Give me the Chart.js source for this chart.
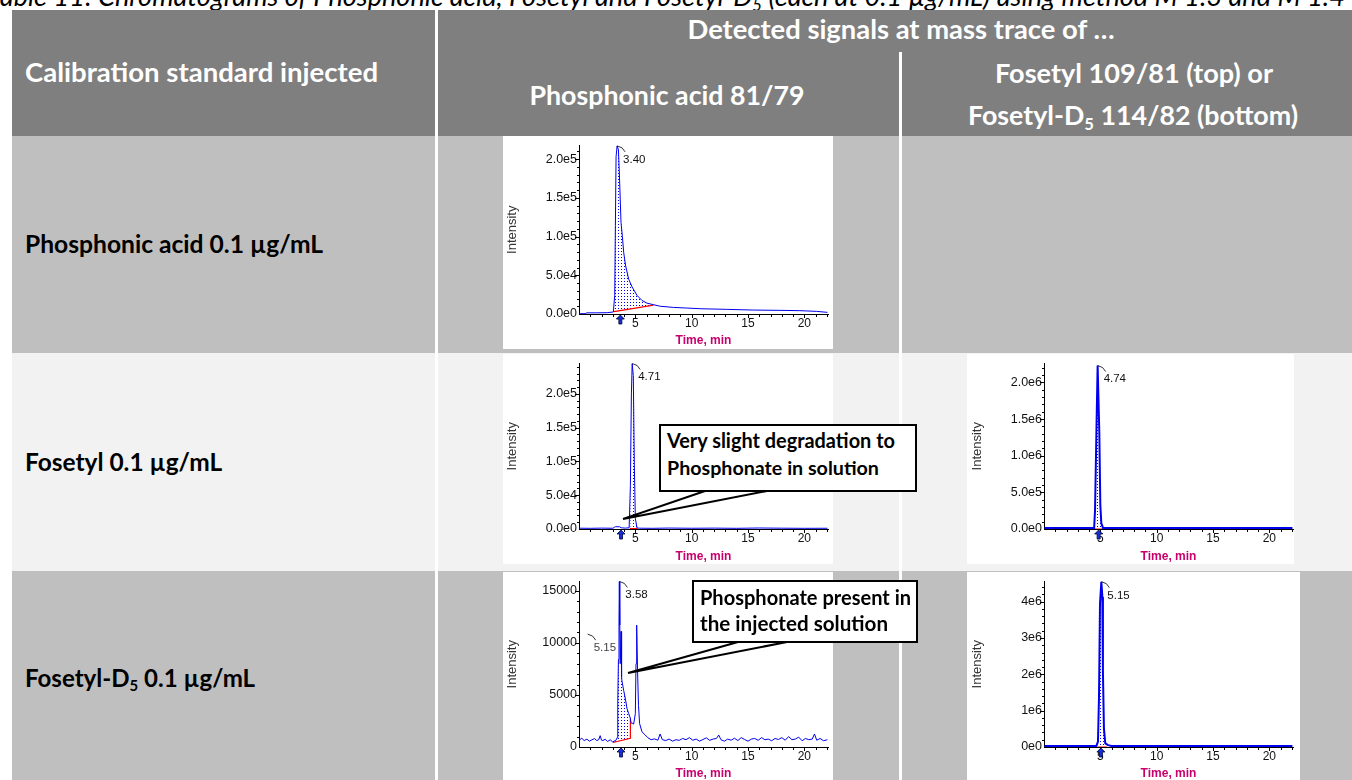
<!DOCTYPE html>
<html>
<head>
<meta charset="utf-8">
<script src="https://cdn.jsdelivr.net/npm/chart.js@4.4.0/dist/chart.umd.min.js"></script>
<style>
  body { margin: 0; width: 1352px; height: 780px; overflow: hidden; position: relative; background: #fff; font-family: Lato, "Open Sans", sans-serif; }
  .box { position: absolute; }
  .txt { position: absolute; white-space: nowrap; font-weight: bold; font-size: 20px; line-height: 1; transform: translate(-50%, -50%); color: #000; }
  .hd { color: #fff; }
  .lbl { transform: translate(0, -50%); }
  .sub { font-size: 0.62em; position: relative; top: 0.28em; }
  .cap { position: absolute; left: -12px; top: -14px; font: italic 19px/19px Lato, sans-serif; white-space: nowrap; }
  canvas { position: absolute; background: #fff; }
  .callout { position: absolute; background: #fff; border: 2px solid #000; box-sizing: border-box; }
</style>
</head>
<body>
<div class="cap" data-w="1357">Table 11: Chromatograms of Phosphonic acid, Fosetyl and Fosetyl-D<span class="sub">5</span> (each at 0.1 µg/mL) using method M 1.3 and M 1.4</div>

<!-- table background -->
<div class="box" style="left:12px;top:10px;width:1340px;height:126px;background:#7f7f7f"></div>
<div class="box" style="left:12px;top:136px;width:1340px;height:217px;background:#bfbfbf"></div>
<div class="box" style="left:12px;top:353px;width:1340px;height:218px;background:#f2f2f2"></div>
<div class="box" style="left:12px;top:571px;width:1340px;height:209px;background:#bfbfbf"></div>
<div class="box" style="left:435px;top:10px;width:3px;height:770px;background:#fff"></div>
<div class="box" style="left:899px;top:52px;width:3px;height:728px;background:#fff"></div>

<div class="txt hd" style="left:901px;top:29px" data-w="427">Detected signals at mass trace of …</div>
<div class="txt hd lbl" style="left:25px;top:72px" data-w="353">Calibration standard injected</div>
<div class="txt hd" style="left:667px;top:95px" data-w="275">Phosphonic acid 81/79</div>
<div class="txt hd" style="left:1134px;top:73px" data-w="278">Fosetyl 109/81 (top) or</div>
<div class="txt hd" style="left:1133px;top:115px" data-w="330">Fosetyl-D<span class="sub">5</span> 114/82 (bottom)</div>

<div class="txt lbl" style="left:25px;top:244px" data-w="298">Phosphonic acid 0.1 µg/mL</div>
<div class="txt lbl" style="left:25px;top:462px" data-w="197">Fosetyl 0.1 µg/mL</div>
<div class="txt lbl" style="left:25px;top:678px" data-w="230">Fosetyl-D<span class="sub">5</span> 0.1 µg/mL</div>

<canvas id="c1" style="left:503px;top:136px"></canvas>
<canvas id="c2" style="left:503px;top:354px"></canvas>
<canvas id="c3" style="left:967px;top:354px"></canvas>
<canvas id="c4" style="left:503px;top:572px"></canvas>
<canvas id="c5" style="left:967px;top:572px"></canvas>

<!-- callouts -->
<svg class="box" style="left:0;top:0" width="1352" height="780">
  <polyline points="705,491 623,519 767,491" fill="none" stroke="#000" stroke-width="2"/>
  <polyline points="738,642 628,673 787,642" fill="none" stroke="#000" stroke-width="2"/>
</svg>
<div class="callout" style="left:659px;top:424px;width:258px;height:68px"></div>
<div class="txt lbl" style="left:667px;top:441px" data-w="228">Very slight degradation to</div>
<div class="txt lbl" style="left:667px;top:468px" data-w="212">Phosphonate in solution</div>
<div class="callout" style="left:692px;top:580px;width:226px;height:63px"></div>
<div class="txt lbl" style="left:700px;top:597px" data-w="211">Phosphonate present in</div>
<div class="txt lbl" style="left:700px;top:623px" data-w="188">the injected solution</div>

<script>
// time axis (min)
const timeTicks = [5, 10, 15, 20];

// Phosphonic acid 0.1 µg/mL, trace 81/79
const ch1Time = [0.05, 0.62, 0.66, 1.5, 2.5, 3.05, 3.17, 3.23, 3.29, 3.38, 3.50, 3.58, 3.73, 3.85, 3.97, 4.14, 4.41, 4.71, 5.15, 5.59, 6.03, 6.62, 7.21, 8.39, 9.57, 10.75, 13.11, 15.47, 17.83, 19.60, 21.08, 22.05];
const ch1Int = [400, 400, 1500, 1500, 1700, 2600, 24000, 114000, 203000, 217000, 212000, 182000, 118000, 100000, 79000, 62000, 45000, 35000, 24000, 17500, 14000, 12000, 10000, 8500, 7700, 6800, 6000, 5100, 4700, 4300, 3400, 2100];
const ch1BaseTime = [3.10, 6.62];
const ch1BaseInt = [3000, 11500];
const ch1YTicks = [0, 50000, 100000, 150000, 200000];

// Fosetyl 0.1 µg/mL, trace 81/79
const ch2Time = [0.05, 1.0, 2.0, 3.0, 3.15, 3.25, 3.6, 3.75, 4.1, 4.45, 4.56, 4.65, 4.72, 4.82, 4.91, 5.00, 5.15, 5.4, 6.5, 8.0, 10.0, 12.0, 14.0, 16.0, 18.0, 20.0, 22.05];
const ch2Int = [1200, 1000, 1300, 1100, 2600, 3400, 3300, 1800, 1300, 1800, 64000, 200000, 245000, 227000, 96000, 15600, 1500, 1200, 1000, 1400, 1100, 1300, 1000, 1500, 1200, 1000, 1100];
const ch2BaseTime = [4.50, 5.20];
const ch2BaseInt = [600, 600];
const ch2YTicks = [0, 50000, 100000, 150000, 200000];

// Fosetyl 0.1 µg/mL, trace 109/81
const ch3Time = [0.05, 4.45, 4.53, 4.65, 4.76, 4.91, 5.00, 5.09, 5.24, 22.05];
const ch3Int = [15000, 15000, 255000, 1310000, 2230000, 1310000, 320000, 76000, 15000, 15000];
const ch3BaseTime = [4.50, 5.25];
const ch3BaseInt = [0, 0];
const ch3YTicks = [0, 500000, 1000000, 1500000, 2000000];

// Fosetyl-D5 0.1 µg/mL, trace 81/79
const ch4Time = [0.04, 0.25, 0.46, 0.70, 0.93, 1.14, 1.38, 1.58, 1.75, 1.88, 2.00, 2.12, 2.32, 2.53, 2.77, 3.00, 3.20, 3.32,
  3.38, 3.44, 3.50, 3.55, 3.58, 3.62, 3.66, 3.73, 3.78, 3.82, 3.97, 4.12, 4.26, 4.41, 4.56, 4.62, 4.71, 4.85,
  5.00, 5.06, 5.12, 5.20, 5.28, 5.38, 5.59, 5.88,
  6.10, 6.40, 6.70, 7.00, 7.20, 7.40, 7.70, 8.00, 8.30, 8.60, 8.90, 9.20, 9.50, 9.80, 10.10, 10.40, 10.70, 11.00, 11.30, 11.60,
  11.90, 12.20, 12.40, 12.60, 12.90, 13.20, 13.50, 13.80, 14.10, 14.40, 14.70, 15.00, 15.30, 15.60, 15.90, 16.20, 16.50, 16.80, 17.10, 17.40,
  17.70, 18.00, 18.30, 18.60, 18.90, 19.20, 19.50, 19.80, 20.10, 20.40, 20.70, 20.90, 21.10, 21.40, 21.70, 22.05];
const ch4Int = [690, 840, 620, 750, 560, 690, 810, 620, 700, 1090, 650, 620, 750, 530, 690, 480, 620, 700,
  900, 4300, 8400, 12000, 15900, 11700, 8000, 11100, 6700, 6300, 5400, 4600, 3700, 3200, 2750, 2300, 2300, 2200,
  3200, 8000, 11700, 7200, 4000, 2240, 1460, 1150,
  900, 700, 780, 650, 1250, 700, 620, 760, 560, 700, 640, 820, 700, 900, 650, 760, 560, 720, 880, 640,
  760, 820, 1150, 700, 560, 760, 650, 840, 620, 900, 720, 560, 760, 820, 640, 900, 700, 760, 600, 820,
  720, 900, 650, 1000, 700, 760, 950, 600, 820, 700, 760, 1250, 650, 820, 600, 700];
const ch4BaseTime = [3.02, 4.56, 4.56];
const ch4BaseInt = [430, 840, 2750];
const ch4YTicks = [0, 5000, 10000, 15000];

// Fosetyl-D5 0.1 µg/mL, trace 114/82
const ch5Time = [0.05, 4.65, 4.79, 4.88, 4.97, 5.09, 5.18, 5.23, 5.32, 5.44, 5.68, 6.0, 22.05];
const ch5Int = [30000, 30000, 150000, 1360000, 3950000, 4550000, 4130000, 2080000, 510000, 100000, 50000, 30000, 30000];
const ch5BaseTime = [4.75, 5.60];
const ch5BaseInt = [0, 0];
const ch5YTicks = [0, 1000000, 2000000, 3000000, 4000000];

Chart.defaults.font.family = '"Liberation Sans", Arial, sans-serif';

const blue = '#0000ee';

// dotted hatch for integrated peak area
const pc = document.createElement('canvas');
pc.width = 3; pc.height = 3;
const pg = pc.getContext('2d');
pg.fillStyle = blue;
pg.fillRect(1, 1, 1, 1);
const dots = pg.createPattern(pc, 'repeat');

function pts(ts, vs) {
    return ts.map((t, k) => ({ x: t, y: vs[k] }));
}

const exp1 = v => v.toExponential(1).replace('+', '');
const exp0 = v => v.toExponential(0).replace('+', '');
const plain = v => String(v);

// minor/major ticks, peak labels and expected retention time arrow
const chromDeco = {
    id: 'chromDeco',
    afterDatasetsDraw(chart, args, o) {
        const { ctx, chartArea: a, scales: { x, y } } = chart;
        ctx.save();
        ctx.strokeStyle = '#000';
        ctx.lineWidth = 1;
        ctx.beginPath();
        for (let m = 1; m <= 22; m++) {
            const px = Math.round(x.getPixelForValue(m)) + 0.5;
            ctx.moveTo(px, a.bottom);
            ctx.lineTo(px, a.bottom + (m % 5 === 0 ? 4 : 3));
        }
        for (let k = 1; k * o.yMinor <= y.max; k++) {
            const py = Math.round(y.getPixelForValue(k * o.yMinor)) + 0.5;
            ctx.moveTo(a.left, py);
            ctx.lineTo(a.left - (k % 5 === 0 ? 4 : 2), py);
        }
        ctx.stroke();

        const tr = chart.data.datasets[0].data;
        o.labels.forEach(lb => {
            let best = null;
            tr.forEach(p => {
                if (Math.abs(p.x - lb.at) < 0.2 && (!best || p.y > best.y)) best = p;
            });
            const ax = x.getPixelForValue(best.x) + (lb.dx || 0);
            const ay = y.getPixelForValue(best.y) + (lb.dy || 0);
            ctx.beginPath();
            ctx.moveTo(ax, ay);
            ctx.lineTo(ax + 5, ay + 2);
            ctx.lineTo(ax + 8, ay + 6);
            ctx.lineWidth = 0.8;
            ctx.stroke();
            ctx.fillStyle = lb.color || '#111';
            ctx.font = '11.5px "Liberation Sans", Arial';
            ctx.textBaseline = 'top';
            ctx.fillText(lb.text, ax + 6, ay + 8);
        });

        const px = x.getPixelForValue(o.arrowAt), b = a.bottom;
        ctx.beginPath();
        ctx.moveTo(px, b + 1);
        ctx.lineTo(px + 4, b + 5);
        ctx.lineTo(px + 1.5, b + 5);
        ctx.lineTo(px + 1.5, b + 10);
        ctx.lineTo(px - 1.5, b + 10);
        ctx.lineTo(px - 1.5, b + 5);
        ctx.lineTo(px - 4, b + 5);
        ctx.closePath();
        ctx.fillStyle = '#1530d8';
        ctx.fill();
        ctx.strokeStyle = '#000030';
        ctx.lineWidth = 0.8;
        ctx.stroke();
        ctx.restore();
    }
};

function drawChrom(id, g, time, inten, baseTime, baseInt, yTicks, yMax, fmt, deco) {
    const cv = document.getElementById(id);
    cv.width = g.w;
    cv.height = g.h;
    const trace = pts(time, inten);
    const base = pts(baseTime, baseInt);
    const area = trace.filter(p => p.x >= baseTime[0] && p.x <= baseTime[baseTime.length - 1]);
    return new Chart(cv, {
        type: 'line',
        data: {
            datasets: [
                { data: trace, borderColor: blue, borderWidth: g.lw, fill: false, order: 0 },
                { data: base, borderColor: '#ff0000', borderWidth: 1.2, fill: false, order: 1 },
                { data: area, borderColor: 'transparent', borderWidth: 0, backgroundColor: dots, fill: 1, order: 2 }
            ]
        },
        options: {
            responsive: false,
            animation: false,
            devicePixelRatio: 1,
            elements: { point: { radius: 0 }, line: { tension: 0 } },
            layout: { padding: { top: g.padTop, right: g.padRight, left: 0, bottom: 0 } },
            plugins: { legend: { display: false }, tooltip: { enabled: false }, chromDeco: deco },
            scales: {
                x: {
                    type: 'linear', min: 0, max: 22.1,
                    afterBuildTicks: s => { s.ticks = timeTicks.map(v => ({ value: v })); },
                    afterFit: s => { s.height = g.xH; },
                    grid: { display: false, drawTicks: false },
                    border: { color: '#000', width: 1 },
                    ticks: { color: '#111', font: { size: 12 }, padding: 2, maxRotation: 0, autoSkip: false },
                    title: {
                        display: true, text: 'Time, min', color: '#c8006e',
                        font: { size: 12, weight: 'bold', lineHeight: 1 },
                        padding: { top: 0, bottom: g.xTitlePad }
                    }
                },
                y: {
                    type: 'linear', min: 0, max: yMax,
                    afterBuildTicks: s => { s.ticks = yTicks.map(v => ({ value: v })); },
                    afterFit: s => { s.width = g.yW; },
                    grid: { display: false, drawTicks: false },
                    border: { color: '#000', width: 1 },
                    ticks: { color: '#111', font: { size: 12.5 }, padding: 2, autoSkip: false, callback: v => fmt(v) },
                    title: {
                        display: true, text: 'Intensity', color: '#333',
                        font: { size: 13, lineHeight: 1 },
                        padding: { top: g.yTitlePad, bottom: 0 }
                    }
                }
            }
        },
        plugins: [chromDeco]
    });
}

drawChrom('c1', { w: 330, h: 213, padTop: 8, padRight: 5, yW: 76, xH: 35, lw: 1, xTitlePad: 2, yTitlePad: 2.5 },
    ch1Time, ch1Int, ch1BaseTime, ch1BaseInt, ch1YTicks, 217500, exp1,
    { yMinor: 10000, arrowAt: 3.67, labels: [{ at: 3.40, text: '3.40' }] });

drawChrom('c2', { w: 330, h: 210, padTop: 7, padRight: 5, yW: 76, xH: 35, lw: 1, xTitlePad: 1, yTitlePad: 2.5 },
    ch2Time, ch2Int, ch2BaseTime, ch2BaseInt, ch2YTicks, 245000, exp1,
    { yMinor: 10000, arrowAt: 3.73, labels: [{ at: 4.72, text: '4.71' }] });

drawChrom('c3', { w: 327, h: 210, padTop: 7, padRight: 1, yW: 77, xH: 35, lw: 2, xTitlePad: 1, yTitlePad: 3.5 },
    ch3Time, ch3Int, ch3BaseTime, ch3BaseInt, ch3YTicks, 2258000, exp1,
    { yMinor: 100000, arrowAt: 4.85, labels: [{ at: 4.76, text: '4.74' }] });

drawChrom('c4', { w: 330, h: 208, padTop: 5, padRight: 5, yW: 76, xH: 33, lw: 1, xTitlePad: 0, yTitlePad: 2.5 },
    ch4Time, ch4Int, ch4BaseTime, ch4BaseInt, ch4YTicks, 15890, plain,
    { yMinor: 1000, arrowAt: 3.73, labels: [{ at: 3.58, text: '3.58' }, { at: 5.12, text: '5.15', dx: -49, dy: 9, color: '#444' }] });

drawChrom('c5', { w: 333, h: 208, padTop: 6, padRight: 7, yW: 77, xH: 33, lw: 2, xTitlePad: 0, yTitlePad: 3.5 },
    ch5Time, ch5Int, ch5BaseTime, ch5BaseInt, ch5YTicks, 4555000, exp0,
    { yMinor: 200000, arrowAt: 5.05, labels: [{ at: 5.09, text: '5.15' }] });

// scale text so that each line has the width it has in the table
function fitText() {
    document.querySelectorAll('[data-w]').forEach(el => {
        const fs = parseFloat(getComputedStyle(el).fontSize);
        const w = el.getBoundingClientRect().width;
        if (w > 0) el.style.fontSize = (fs * Number(el.dataset.w) / w).toFixed(2) + 'px';
    });
}
fitText();
document.fonts.ready.then(fitText);
</script>
</body>
</html>
